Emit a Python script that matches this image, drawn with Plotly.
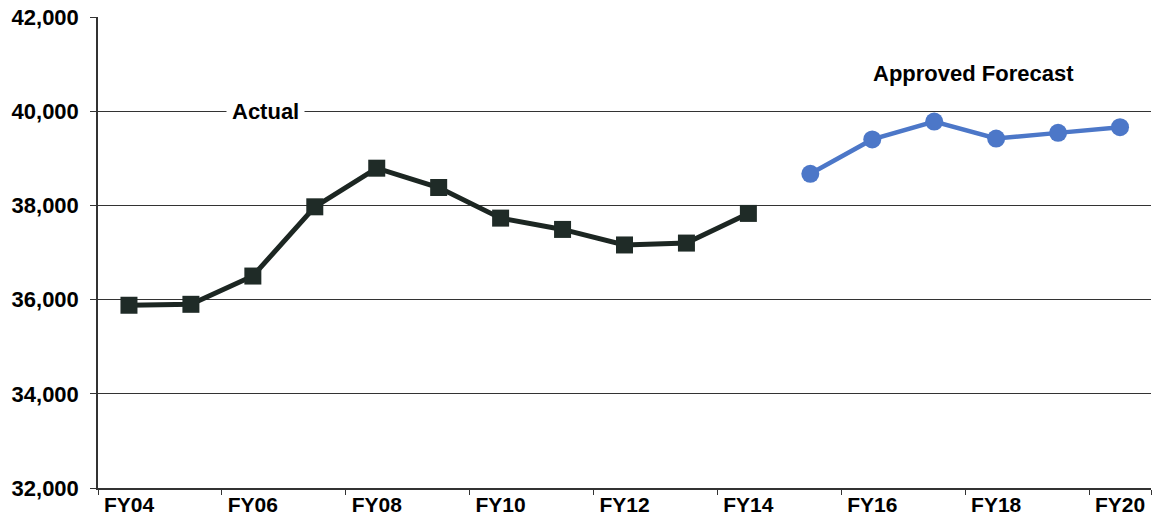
import plotly.graph_objects as go

years = ["FY04", "FY05", "FY06", "FY07", "FY08", "FY09", "FY10", "FY11", "FY12",
         "FY13", "FY14", "FY15", "FY16", "FY17", "FY18", "FY19", "FY20"]
actual_years = years[:11]
actual_values = [35880, 35900, 36500, 37970, 38790, 38380, 37730, 37490, 37160, 37200, 37830]
forecast_years = years[11:]
forecast_values = [38670, 39400, 39780, 39420, 39540, 39660]
y_ticks = [32000, 34000, 36000, 38000, 40000, 42000]
x_tick_labels = ["FY04", "FY06", "FY08", "FY10", "FY12", "FY14", "FY16", "FY18", "FY20"]

font_family = "Liberation Sans, Arial, sans-serif"

fig = go.Figure()
fig.add_trace(go.Scatter(
    x=actual_years, y=actual_values, mode="lines+markers",
    line=dict(color="#1c2622", width=5),
    marker=dict(symbol="square", size=17, color="#1f2b27"),
    showlegend=False,
))
fig.add_trace(go.Scatter(
    x=forecast_years, y=forecast_values, mode="lines+markers",
    line=dict(color="#4c77c8", width=4.5),
    marker=dict(symbol="circle", size=18, color="#4c77c8"),
    showlegend=False,
))

fig.add_annotation(x=2.21, y=40000, text="Actual", showarrow=False,
                   bgcolor="white", borderpad=5,
                   font=dict(family=font_family, size=22, color="black", weight="bold"))
fig.add_annotation(x=13.63, y=40790, text="Approved Forecast", showarrow=False,
                   font=dict(family=font_family, size=22, color="black", weight="bold"))

fig.update_xaxes(
    type="category", categoryorder="array", categoryarray=years,
    range=[-0.5, 16.5],
    tickmode="array", tickvals=x_tick_labels, ticktext=x_tick_labels,
    tickson="boundaries", ticks="outside", ticklen=5, tickcolor="#333", tickwidth=1,
    ticklabelstandoff=-3,
    showline=True, linecolor="#333", linewidth=1.5,
    showgrid=False, zeroline=False,
    tickfont=dict(family=font_family, size=21, color="black", weight="bold"),
)
fig.update_yaxes(
    range=[32000, 42000], tickvals=y_ticks,
    ticktext=[f"{v:,}" for v in y_ticks],
    ticks="outside", ticklen=6, tickcolor="#333", ticklabelstandoff=7,
    showline=True, linecolor="#333", linewidth=1.5,
    showgrid=True, gridcolor="#333333", gridwidth=1.3, zeroline=False,
    tickfont=dict(family=font_family, size=22, color="black", weight="bold"),
)

fig.update_layout(
    width=1155, height=526,
    margin=dict(l=98, r=4, t=17, b=38),
    paper_bgcolor="white", plot_bgcolor="white",
)

fig.write_html("out.html")
